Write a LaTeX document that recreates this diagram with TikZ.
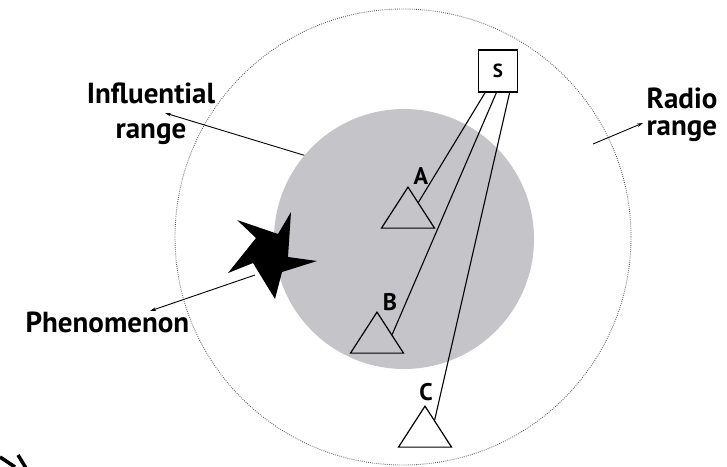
\documentclass[tikz,border=0pt]{standalone}
\usepackage{fontspec}
\setmainfont{PT Sans}
\usetikzlibrary{arrows.meta, calc, shapes.geometric}

\definecolor{rangegray}{RGB}{197,197,201}

\begin{document}
\begin{tikzpicture}[x=1pt, y=-1pt, >={Stealth[length=6pt, width=3.5pt]},
    sensor/.style={isosceles triangle, isosceles triangle apex angle=66, isosceles triangle stretches,
        shape border rotate=90, draw, line width=1.2pt, minimum width=53pt, minimum height=41pt, inner sep=0pt},
    textlabel/.style={font=\fontsize{29}{35}\selectfont\bfseries},
    letter/.style={font=\fontsize{24}{28}\selectfont\bfseries},
    link/.style={line width=1.1pt},
    pointer/.style={->, line width=0.9pt}]
        \clip (0, 0) rectangle (727, 466);

        % Ranges
        \node[circle, draw=black!65, dash pattern=on 0.8pt off 1.3pt, line width=0.9pt, minimum size=456pt, inner sep=0pt] (radio) at (403, 237) {};
        \node[circle, fill=rangegray, minimum size=260pt, inner sep=0pt] (infl) at (404, 239) {};

        % Phenomenon
        \fill (291, 212) -- (288, 257) -- (317, 261) -- (282, 272) -- (275, 299) -- (253, 263)
            -- (228, 273) -- (256, 238) -- (237, 220) -- (278, 234) -- cycle;

        % Nodes
        \node[draw, line width=1.1pt, minimum width=39pt, minimum height=42pt, inner sep=0pt,
            font=\fontsize{19}{22}\selectfont\bfseries] (S) at (498, 71) {S};
        \node[sensor, anchor=apex] (A) at (408, 186) {};
        \node[sensor, anchor=apex] (B) at (377, 311) {};
        \node[sensor, anchor=apex] (C) at (425, 405) {};
        \node[letter, anchor=base] (Alabel) at (421, 184) {A};
        \node[letter, anchor=base] (Blabel) at (390, 310) {B};
        \node[letter, anchor=base] (Clabel) at (426, 400) {C};

        % Links
        \draw[link] ($(S.south west)!0.18!(S.south east)$) -- ($(A.apex)!0.38!(A.right corner)$);
        \draw[link] ($(S.south west)!0.46!(S.south east)$) -- ($(B.apex)!0.55!(B.right corner)$);
        \draw[link] ($(S.south west)!0.79!(S.south east)$) -- ($(C.apex)!0.35!(C.right corner)$);

        % Labels
        \node[textlabel, align=center, anchor=base] (inflText) at (151, 138) {Influential\\range};
        \node[textlabel, anchor=base west] (phenText) at (22, 332) {Phenomenon};
        \node[textlabel, align=left, anchor=base west, font=\fontsize{29}{27}\selectfont\bfseries] (radioText) at (643, 135) {Radio\\range};

        % Pointers
        \coordinate (inflTip) at (165, 113);
        \coordinate (phenTail) at (255, 275);
        \coordinate (phenTip) at (150, 311);
        \coordinate (radioTail) at (593, 144);
        \coordinate (radioTip) at (643, 123);
        \draw[pointer] (infl.140) -- (inflTip);
        \draw[pointer] (phenTail) -- (phenTip);
        \draw[pointer] (radioTail) -- (radioTip);

        % Corner mark
        \draw[line width=3.5pt] (0, 457) -- (15, 467);
        \draw[line width=3.5pt] (18, 455) -- (26, 468);
    \end{tikzpicture}
\end{document}
